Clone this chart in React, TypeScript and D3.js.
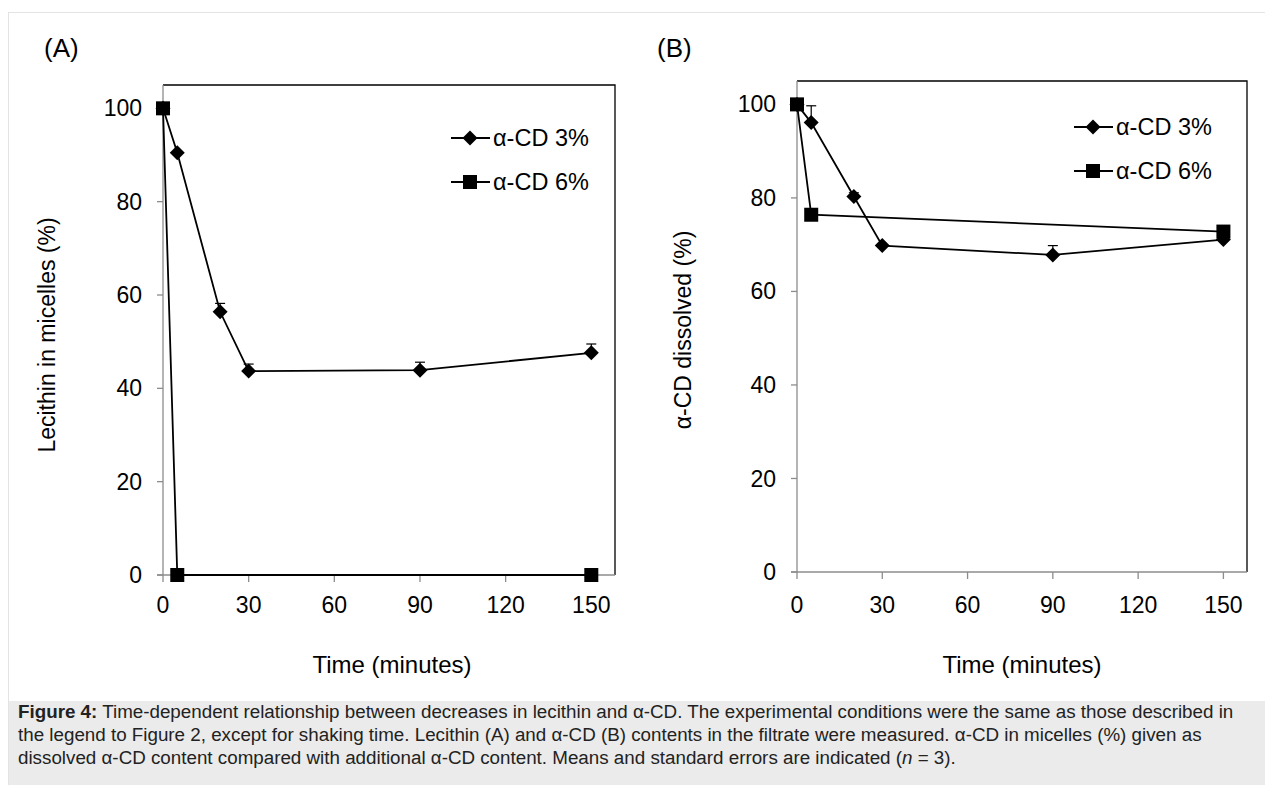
import React from "react";
import * as d3 from "d3";

const timeTicks = [0, 30, 60, 90, 120, 150];
const yTicks = [0, 20, 40, 60, 80, 100];

// Panel A: Lecithin in micelles (%)
const aTime3 = [0, 5, 20, 30, 90, 150];
const aVal3 = [100, 90.5, 56.4, 43.7, 43.9, 47.6];
const aErr3 = [0, 0, 1.8, 1.5, 1.7, 1.9];
const aTime6 = [0, 5, 150];
const aVal6 = [100, 0, 0];

// Panel B: α-CD dissolved (%)
const bTime3 = [0, 5, 20, 30, 90, 150];
const bVal3 = [100, 96.1, 80.3, 69.8, 67.8, 71.1];
const bErr3 = [0, 3.6, 0.8, 0, 2.0, 0];
const bTime6 = [0, 5, 150];
const bVal6 = [100, 76.4, 72.8];

const legendLabels = ["α-CD 3%", "α-CD 6%"];
const captionBold = "Figure 4:";
const captionLines = [
  " Time-dependent relationship between decreases in lecithin and α-CD. The experimental conditions were the same as those described in",
  "the legend to Figure 2, except for shaking time. Lecithin (A) and α-CD (B) contents in the filtrate were measured. α-CD in micelles (%) given as",
  "dissolved α-CD content compared with additional α-CD content. Means and standard errors are indicated (",
];

const FONT = "'Liberation Sans', Arial, sans-serif";
const AXIS_GRAY = "#8c8c8c";
const X_MAX = 158.3;
const Y_MAX = 105;

type PanelProps = {
  label: string;
  yTitle: string;
  left: number;
  right: number;
  top: number;
  bottom: number;
  t3: number[];
  v3: number[];
  e3: number[];
  t6: number[];
  v6: number[];
  legendX: number;
  legendY: number;
  labelX: number;
  labelY: number;
  yTitleX: number;
  yTitleY: number;
  xTitleX: number;
};

function Diamond({ x, y, r = 7.5 }: { x: number; y: number; r?: number }) {
  return <path d={`M${x},${y - r}L${x + r},${y}L${x},${y + r}L${x - r},${y}Z`} fill="#000" />;
}
function Square({ x, y, s = 14 }: { x: number; y: number; s?: number }) {
  return <rect x={x - s / 2} y={y - s / 2} width={s} height={s} fill="#000" />;
}

function Panel(p: PanelProps) {
  const x = d3.scaleLinear().domain([0, X_MAX]).range([p.left, p.right]);
  const y = d3.scaleLinear().domain([0, Y_MAX]).range([p.bottom, p.top]);
  const line = d3
    .line<[number, number]>()
    .x((d) => x(d[0]))
    .y((d) => y(d[1]));
  const d3pts = p.t3.map((t, i) => [t, p.v3[i]] as [number, number]);
  const d6pts = p.t6.map((t, i) => [t, p.v6[i]] as [number, number]);
  return (
    <g>
      <text x={p.labelX} y={p.labelY} fontSize={26} fontFamily={FONT}>
        {p.label}
      </text>
      <path
        d={`M${p.left},${p.top}H${p.right}V${p.bottom}`}
        fill="none"
        stroke="#000"
        strokeWidth={1.3}
      />
      <line x1={p.left} x2={p.left} y1={p.top} y2={p.bottom} stroke={AXIS_GRAY} strokeWidth={1.3} />
      <line x1={p.left - 6} x2={p.right} y1={p.bottom} y2={p.bottom} stroke={AXIS_GRAY} strokeWidth={1.3} />
      {yTicks.map((t) => (
        <g key={"y" + t}>
          <line x1={p.left - 6} x2={p.left} y1={y(t)} y2={y(t)} stroke={AXIS_GRAY} strokeWidth={1.3} />
          <text x={p.left - 21} y={y(t)} dy="0.35em" textAnchor="end" fontSize={23} fontFamily={FONT}>
            {t}
          </text>
        </g>
      ))}
      {timeTicks.map((t) => (
        <g key={"x" + t}>
          <line x1={x(t)} x2={x(t)} y1={p.bottom} y2={p.bottom + 7} stroke={AXIS_GRAY} strokeWidth={1.3} />
          <text x={x(t)} y={605} dy="0.35em" textAnchor="middle" fontSize={23} fontFamily={FONT}>
            {t}
          </text>
        </g>
      ))}
      <text x={p.xTitleX} y={665} dy="0.35em" textAnchor="middle" fontSize={24} fontFamily={FONT}>
        Time (minutes)
      </text>
      <text
        transform={`translate(${p.yTitleX},${p.yTitleY}) rotate(-90)`}
        dy="0.35em"
        textAnchor="middle"
        fontSize={23}
        fontFamily={FONT}
      >
        {p.yTitle}
      </text>
      {p.t3.map((t, i) =>
        p.e3[i] > 0 ? (
          <g key={"e" + i} stroke="#000" strokeWidth={1.2}>
            <line x1={x(t)} x2={x(t)} y1={y(p.v3[i])} y2={y(p.v3[i] + p.e3[i])} />
            <line x1={x(t) - 5} x2={x(t) + 5} y1={y(p.v3[i] + p.e3[i])} y2={y(p.v3[i] + p.e3[i])} />
          </g>
        ) : null
      )}
      <path d={line(d6pts) || ""} fill="none" stroke="#000" strokeWidth={1.8} />
      <path d={line(d3pts) || ""} fill="none" stroke="#000" strokeWidth={1.8} />
      {d6pts.map((d, i) => (
        <Square key={"s" + i} x={x(d[0])} y={y(d[1])} />
      ))}
      {d3pts.map((d, i) => (
        <Diamond key={"d" + i} x={x(d[0])} y={y(d[1])} />
      ))}
      {legendLabels.map((lab, i) => {
        const ly = p.legendY + i * 44;
        return (
          <g key={"l" + i}>
            <line x1={p.legendX} x2={p.legendX + 39} y1={ly} y2={ly} stroke="#000" strokeWidth={1.8} />
            {i === 0 ? <Diamond x={p.legendX + 19} y={ly} /> : <Square x={p.legendX + 19} y={ly} />}
            <text x={p.legendX + 42} y={ly} dy="0.35em" fontSize={23.5} fontFamily={FONT}>
              {lab}
            </text>
          </g>
        );
      })}
    </g>
  );
}

export default function App() {
  return (
    <svg width={1265} height={785} style={{ position: "absolute", left: 0, top: 0, background: "#fff" }}>
      <rect x={8.5} y={12.5} width={1270} height={790} fill="#fff" stroke="#e3e3e3" strokeWidth={1} />
      <rect x={9} y={701} width={1256} height={84} fill="#ebebeb" />
      <Panel
        label="(A)"
        yTitle="Lecithin in micelles (%)"
        left={163}
        right={615}
        top={85}
        bottom={575}
        t3={aTime3}
        v3={aVal3}
        e3={aErr3}
        t6={aTime6}
        v6={aVal6}
        legendX={451}
        legendY={138}
        labelX={44}
        labelY={57}
        yTitleX={47}
        yTitleY={335}
        xTitleX={392}
      />
      <Panel
        label="(B)"
        yTitle="α-CD dissolved (%)"
        left={797}
        right={1247}
        top={81}
        bottom={572}
        t3={bTime3}
        v3={bVal3}
        e3={bErr3}
        t6={bTime6}
        v6={bVal6}
        legendX={1074}
        legendY={127}
        labelX={657}
        labelY={57}
        yTitleX={683}
        yTitleY={330}
        xTitleX={1022}
      />
      <g fontFamily={FONT} fontSize={18.8} fill="#222">
        <text x={18} y={718}>
          <tspan fontWeight="bold">{captionBold}</tspan>
          <tspan>{captionLines[0]}</tspan>
        </text>
        <text x={18} y={741}>
          {captionLines[1]}
        </text>
        <text x={18} y={764}>
          {captionLines[2]}
          <tspan fontStyle="italic">n</tspan>
          <tspan> = 3).</tspan>
        </text>
      </g>
    </svg>
  );
}
